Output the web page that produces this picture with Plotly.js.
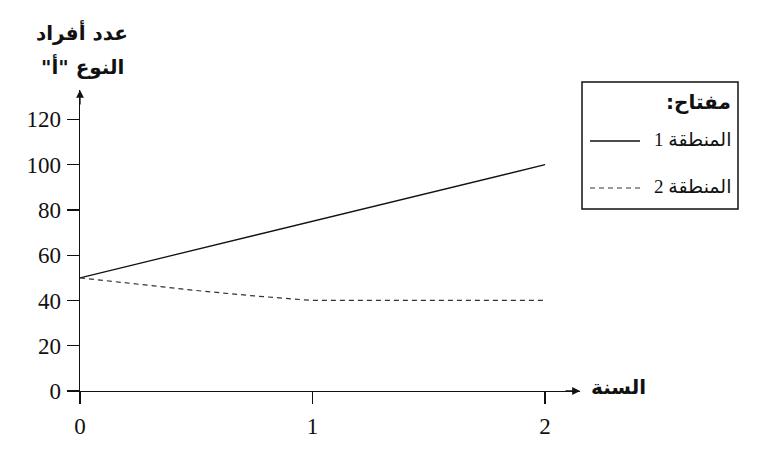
<!DOCTYPE html>
<html>
<head>
<meta charset="utf-8">
<script src="https://cdn.plot.ly/plotly-3.0.1.min.js"></script>
<style>html,body{margin:0;padding:0;background:#fff;}#chart{width:758px;height:458px;}</style>
</head>
<body>
<div id="chart"></div>
<script>
// Data
var years1 = [0, 1, 2];
var region1 = [50, 75, 100];
var years2 = [0, 0.25, 0.5, 0.75, 1, 2];
var region2 = [50, 47.1, 44.4, 42.0, 40, 40];
var xTicks = [0, 1, 2];
var yTicks = [0, 20, 40, 60, 80, 100, 120];
var name1 = "المنطقة 1";
var name2 = "المنطقة 2";
var yTitle1 = "عدد أفراد";
var yTitle2 = "النوع \"أ\"\u200F";
var xTitle = "السنة";
var keyTitle = "مفتاح:\u200F";

var serif = "Liberation Serif, DejaVu Sans, serif";
var arab = "DejaVu Sans, sans-serif";

var traces = [
  {x: years1, y: region1, mode: 'lines', name: name1, showlegend: false,
   line: {color: '#111', width: 1.3}},
  {x: years2, y: region2, mode: 'lines', name: name2, showlegend: false,
   line: {color: '#333', width: 1.2, dash: '5px,4px'}}
];

// pixel helpers -> paper coords (plot area 80..580 x, 90..391 y)
function px(p){ return (p - 80) / 500; }
function py(p){ return (391 - p) / 301; }

var layout = {
  width: 758, height: 458,
  margin: {l: 80, r: 178, t: 90, b: 67},
  paper_bgcolor: '#fff', plot_bgcolor: '#fff',
  showlegend: false,
  xaxis: {range: [0, 2.15], tickvals: xTicks, ticktext: xTicks.map(String),
          showline: true, linecolor: '#111', linewidth: 1.3,
          ticks: 'outside', ticklen: 12, tickwidth: 1.3, tickcolor: '#111',
          showgrid: false, zeroline: false, ticklabelstandoff: 2,
          tickfont: {family: serif, size: 23, color: '#111'}},
  yaxis: {range: [0, 133], tickvals: yTicks, ticktext: yTicks.map(String),
          showline: true, linecolor: '#111', linewidth: 1.3,
          ticks: 'outside', ticklen: 12, tickwidth: 1.3, tickcolor: '#111',
          showgrid: false, zeroline: false, ticklabelstandoff: 1,
          tickfont: {family: serif, size: 23, color: '#111'}},
  shapes: [
    {type: 'rect', xref: 'paper', yref: 'paper', x0: px(582), x1: px(738), y0: py(209), y1: py(82),
     line: {color: '#111', width: 1.5}, fillcolor: 'rgba(0,0,0,0)'},
    {type: 'line', xref: 'paper', yref: 'paper', x0: px(590), x1: px(640), y0: py(141), y1: py(141),
     line: {color: '#111', width: 1.3}},
    {type: 'line', xref: 'paper', yref: 'paper', x0: px(590), x1: px(641), y0: py(188), y1: py(188),
     line: {color: '#333', width: 1.2, dash: '5px,4px'}}
  ],
  annotations: [
    {xref: 'x', yref: 'y', x: 2.15, y: 0, ax: -16, ay: 0, text: '', showarrow: true,
     arrowhead: 2, arrowsize: 1.2, arrowwidth: 1.3, arrowcolor: '#111'},
    {xref: 'x', yref: 'y', x: 0, y: 133, ax: 0, ay: 16, text: '', showarrow: true,
     arrowhead: 2, arrowsize: 1.2, arrowwidth: 1.3, arrowcolor: '#111'},
    {xref: 'paper', yref: 'paper', x: px(82), y: py(32), text: yTitle1, showarrow: false,
     xanchor: 'center', yanchor: 'middle', font: {family: arab, size: 20, color: '#111', weight: 'bold'}},
    {xref: 'paper', yref: 'paper', x: px(82), y: py(66), text: yTitle2, showarrow: false,
     xanchor: 'center', yanchor: 'middle', font: {family: arab, size: 20, color: '#111', weight: 'bold'}},
    {xref: 'paper', yref: 'paper', x: px(648), y: py(387), text: xTitle, showarrow: false,
     xanchor: 'right', yanchor: 'middle', font: {family: arab, size: 20, color: '#111', weight: 'bold'}},
    {xref: 'paper', yref: 'paper', x: px(733), y: py(102), text: keyTitle, showarrow: false,
     xanchor: 'right', yanchor: 'middle', font: {family: arab, size: 20, color: '#111', weight: 'bold'}},
    {xref: 'paper', yref: 'paper', x: px(733), y: py(139), text: name1, showarrow: false,
     xanchor: 'right', yanchor: 'middle', font: {family: serif, size: 19, color: '#111'}},
    {xref: 'paper', yref: 'paper', x: px(733), y: py(186), text: name2, showarrow: false,
     xanchor: 'right', yanchor: 'middle', font: {family: serif, size: 19, color: '#111'}}
  ]
};

Plotly.newPlot('chart', traces, layout, {staticPlot: true, displayModeBar: false});
</script>
</body>
</html>
